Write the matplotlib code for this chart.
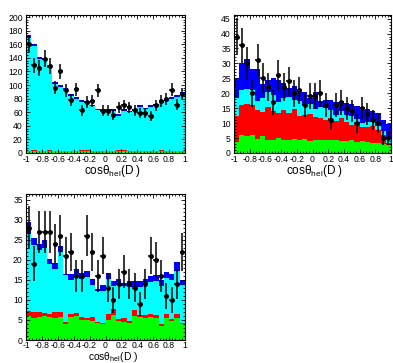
import matplotlib
matplotlib.use("Agg")
import matplotlib.pyplot as plt
from matplotlib.ticker import MultipleLocator
import numpy as np

plt.rcParams['font.family'] = ['Liberation Sans', 'DejaVu Sans']
plt.rcParams['mathtext.fontset'] = 'custom'
plt.rcParams['mathtext.rm'] = 'Liberation Sans'
plt.rcParams['mathtext.it'] = 'Liberation Sans:italic'
plt.rcParams['axes.unicode_minus'] = False

edges = np.linspace(-1, 1, 31)
centers = 0.5 * (edges[1:] + edges[:-1])

# --- panel 1 ---
data1 = [160, 129, 125, 139, 128, 96, 120, 92, 78, 94, 63, 75, 77, 92, 62,
         62, 56, 67, 70, 67, 63, 59, 59, 54, 70, 77, 79, 93, 71, 87]
green1 = [3] * 30
red1 = [0, 1.5, 0, 0, 1.5, 0, 0, 0, 0, 0, 1.5, 1.5, 0, 0, 0,
        0, 0, 1, 1.5, 0, 0, 0, 0, 0, 0, 1.5, 0, 0, 0, 0]
cyan1 = [166.5, 152.5, 135, 134, 120.5, 98, 94.5, 90.5, 81, 76.5, 71, 69, 65.5, 60, 59,
         59, 59, 51, 57.5, 57, 59, 65, 61, 65, 67, 69.5, 74, 77, 80, 84.5]
blue1 = [3.5, 3, 3, 3, 3, 3, 2.5, 2.5, 3, 2.5, 2.5, 2.5, 2.5, 2, 2,
         2, 2, 2, 2, 2, 2, 2, 2, 2, 2, 2, 2, 2, 2, 2.5]

# --- panel 2 ---
data2 = [39, 36, 30, 20, 31, 25, 22, 17, 26, 22, 24, 20, 21, 16, 19,
         19, 20, 16, 11, 16, 17, 15, 14, 10, 15, 13, 11, 10, 5, 5]
green2 = [3.7, 5.9, 5.6, 6.1, 4.7, 5.6, 4.4, 4.3, 4.9, 4.5, 4.2, 4.8, 4.3, 4.6, 3.9,
          4.5, 4.5, 4.4, 4.2, 4.5, 4.1, 4.0, 4.5, 3.7, 4.1, 3.8, 3.5, 3.2, 3.0, 2.8]
red2 = [8.8, 10.1, 10.7, 9.9, 9.6, 8.2, 11.1, 9.9, 8.6, 10.0, 9.1, 10.0, 8.1, 8.0, 9.3,
        7.7, 7.3, 6.6, 7.6, 6.3, 7.6, 6.4, 5.0, 6.5, 4.5, 5.0, 5.7, 4.5, 3.0, 0.4]
cyan2 = [5.8, 5.0, 5.0, 5.0, 3.2, 4.7, 4.8, 5.3, 3.5, 4.0, 5.5, 3.0, 4.9, 3.4, 3.3,
         2.6, 3.7, 4.0, 2.5, 2.0, 2.3, 2.2, 3.0, 1.3, 1.4, 1.7, 1.1, 1.3, 1.5, 1.8]
blue2 = [6.7, 9.0, 10.2, 7.0, 10.5, 4.7, 4.2, 5.5, 7.3, 5.0, 3.0, 4.6, 4.0, 4.5, 2.0,
         5.7, 2.0, 2.8, 3.5, 4.2, 3.5, 4.2, 4.0, 4.1, 4.3, 4.3, 3.7, 4.5, 3.4, 4.6]

# --- panel 3 ---
data3 = [28, 19, 27, 27, 27, 24, 26, 21, 22, 16, 16, 26, 22, 16, 21,
         13, 10, 14, 17, 14, 13, 9, 14, 21, 20, 16, 11, 10, 14, 22]
green3 = [6.0, 5.5, 5.8, 5.9, 5.7, 5.5, 5.7, 4.0, 5.7, 6.0, 4.9, 5.0, 4.8, 4.2, 4.0,
          5.0, 6.2, 4.8, 4.6, 4.3, 6.0, 5.7, 5.6, 5.8, 5.5, 3.5, 5.4, 4.8, 5.4, 4.0]
red3 = [1.2, 1.4, 1.1, 0.8, 0.9, 1.6, 1.4, 0.6, 0.9, 0.8, 0.9, 0.6, 0.9, 0.3, 0.3,
        1.4, 1.5, 0.5, 0.8, 0.4, 1.6, 0.5, 0.7, 0.6, 0.7, 0.4, 1.2, 0.4, 1.0, 0.3]
cyan3 = [19.3, 16.8, 15.6, 16.3, 12.4, 10.7, 14.8, 11.5, 8.4, 9.5, 9.5, 10.2, 8.1, 7.7, 8.0,
         8.9, 5.7, 8.4, 8.0, 8.6, 5.6, 7.0, 7.7, 8.0, 8.5, 9.6, 8.8, 9.7, 10.8, 9.5]
blue3 = [2.8, 1.8, 1.5, 2.0, 1.3, 1.3, 1.5, 0.4, 1.4, 1.3, 1.5, 1.5, 1.3, 0.6, 1.5,
         1.5, 1.4, 1.5, 0.8, 1.5, 1.4, 1.4, 1.2, 1.6, 1.5, 1.4, 1.5, 1.5, 2.2, 1.2]

colors = ['#00ff00', '#ff0000', '#00ffff', '#0000ff']
xticks = [-1, -0.8, -0.6, -0.4, -0.2, 0, 0.2, 0.4, 0.6, 0.8, 1]
xticklabels = ['-1', '-0.8', '-0.6', '-0.4', '-0.2', '0', '0.2', '0.4', '0.6', '0.8', '1']
xtitle = 'cosθ$_{\\rm hel}$(D )'
tickfont = ['Liberation Sans Narrow', 'Liberation Sans']


def draw(ax, data, comps, ymax, ymaj, ymin, xpad=1.6):
    tops = np.cumsum(np.array(comps, dtype=float), axis=0)
    # biggest stack first, then the smaller ones over it
    for top, c in reversed(list(zip(tops, colors))):
        ax.stairs(top, edges, baseline=0, fill=True, color=c, lw=0)
    d = np.array(data, dtype=float)
    ax.errorbar(centers, d, yerr=np.sqrt(d), xerr=(edges[1] - edges[0]) / 2,
                fmt='o', color='black', ms=2.5, elinewidth=1.1, capsize=0, zorder=5)
    ax.set_xlim(-1, 1)
    ax.set_ylim(0, ymax)
    ax.set_xticks(xticks)
    ax.set_xticklabels(xticklabels)
    ax.xaxis.set_minor_locator(MultipleLocator(0.04))
    ax.yaxis.set_major_locator(MultipleLocator(ymaj))
    ax.yaxis.set_minor_locator(MultipleLocator(ymin))
    ax.tick_params(which='both', direction='in', top=True, right=True, width=0.6, labelsize=6.2)
    ax.tick_params(which='major', length=3)
    ax.tick_params(which='minor', length=1.5)
    ax.tick_params(axis='x', pad=xpad)
    ax.tick_params(axis='y', pad=2.3)
    for lab in ax.get_xticklabels() + ax.get_yticklabels():
        lab.set_family(tickfont)
    for s in ax.spines.values():
        s.set_linewidth(0.8)


fig = plt.figure(figsize=(3.93, 3.63), dpi=100)
W, H = 393.0, 363.0
ax1 = fig.add_axes([26 / W, 1 - 153 / H, 159 / W, 138 / H])
ax2 = fig.add_axes([234 / W, 1 - 153 / H, 157 / W, 138 / H])
ax3 = fig.add_axes([26 / W, 1 - 340 / H, 159 / W, 146 / H])

draw(ax1, data1, [green1, red1, cyan1, blue1], 203, 20, 4)
draw(ax2, data2, [green2, red2, cyan2, blue2], 46.2, 5, 1)
draw(ax3, data3, [green3, red3, cyan3, blue3], 36.4, 5, 1, xpad=1.0)

fig.text(113 / W, 1 - 174 / H, xtitle, ha='center', va='baseline', fontsize=8.5)
fig.text(315 / W, 1 - 174 / H, xtitle, ha='center', va='baseline', fontsize=8.5)
fig.text(113 / W, 1 - 360.3 / H, xtitle, ha='center', va='baseline', fontsize=7.4)

fig.savefig('out.png', dpi=100)
